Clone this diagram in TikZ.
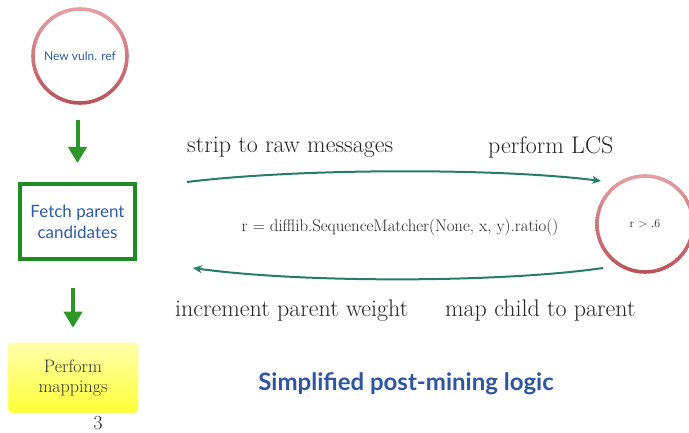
\documentclass[tikz,border=0pt]{standalone}
\usepackage{fontspec}
\newfontfamily\lato{Lato}
\usetikzlibrary{arrows.meta}

\definecolor{ringlight}{RGB}{228,160,165}
\definecolor{ringdark}{RGB}{185,82,88}
\definecolor{boxgreen}{RGB}{30,140,35}
\definecolor{arrowgreen}{RGB}{45,150,40}
\definecolor{teal}{RGB}{38,125,105}
\definecolor{titleblue}{RGB}{46,86,160}
\definecolor{textblue}{RGB}{45,90,170}
\definecolor{softyellow}{RGB}{255,255,170}
\definecolor{deepyellow}{RGB}{255,255,55}

\tikzset{
  ring/.style={circle, inner sep=0pt},
  fetchbox/.style={draw=boxgreen, line width=4pt, minimum width=115pt, minimum height=75pt,
    align=center, text=textblue, font=\lato\fontsize{17}{21}\selectfont},
  mapbox/.style={rounded corners=4pt, draw=deepyellow!50!white, line width=0.6pt,
    top color=softyellow, bottom color=deepyellow, minimum width=130pt, minimum height=70pt,
    align=center, text=black!80, font=\fontsize{18}{20}\selectfont},
  downarrow/.style={draw=arrowgreen, line width=4pt,
    -{Triangle[width=18pt,length=16pt]}},
  flow/.style={draw=teal, line width=2pt, -{Stealth[length=9pt,width=8pt]}},
  label/.style={anchor=west, inner sep=0pt, text=black!85, font=\fontsize{24}{27}\selectfont},
}

% shaded ring round a circular node: #1 node name, #2 radius
\newcommand{\shadedring}[2]{%
  \path[even odd rule, top color=ringlight, bottom color=ringdark]
    (#1.center) circle[radius=#2+1.8pt] (#1.center) circle[radius=#2-1.8pt];}

\begin{document}
\begin{tikzpicture}[x=1pt,y=-1pt]
  \useasboundingbox (0,0) rectangle (689,433);
  \fill[white] (0,0) rectangle (689,433);

  % left column: source, fetch, mapping
  \node[ring, minimum size=94pt, text=textblue, font=\lato\fontsize{12}{14}\selectfont]
    (vuln) at (80,56) {New vuln. ref};
  \shadedring{vuln}{47pt}
  \node[fetchbox] (fetch) at (77.5,221.5) {Fetch parent\\candidates};
  \node[mapbox] (maps) at (73,378) {Perform\\mappings};
  \node[inner sep=0pt, font=\fontsize{20}{22}\selectfont, text=black!85] (pagenum) at (98,423) {3};

  \draw[downarrow, shorten <=17pt, shorten >=19pt] (vuln.south -| fetch.north) -- (fetch.north);
  \draw[downarrow, shorten <=27pt, shorten >=15pt] (fetch.south -| maps.north) -- (maps.north);

  % right side: the LCS comparison loop
  \node[ring, minimum size=96pt, font=\fontsize{12}{14}\selectfont, text=black!85]
    (test) at (645,224) {r > .6};
  \shadedring{test}{48pt}

  \coordinate (topL) at (187,182);
  \coordinate (topR) at (601,181);
  \coordinate (botR) at (603,268);
  \coordinate (botL) at (193,268);
  \draw[flow] (topL) .. controls (300,168) and (500,168) .. (topR);
  \draw[flow] (botR) .. controls (500,283) and (300,283) .. (botL);

  \node[label] (strip) at (187,147) {strip to raw messages};
  \node[label] (lcs) at (488,147) {perform LCS};
  \node[label] (incr) at (175,311) {increment parent weight};
  \node[label] (mapc) at (445,311) {map child to parent};
  \node[font=\fontsize{16.8}{19}\selectfont, text=black!85] (formula) at (400,227)
    {r = difflib.SequenceMatcher(None, x, y).ratio()};

  \node[text=titleblue, font=\lato\bfseries\fontsize{24}{28}\selectfont] (title) at (406,384)
    {Simplified post-mining logic};
\end{tikzpicture}
\end{document}
